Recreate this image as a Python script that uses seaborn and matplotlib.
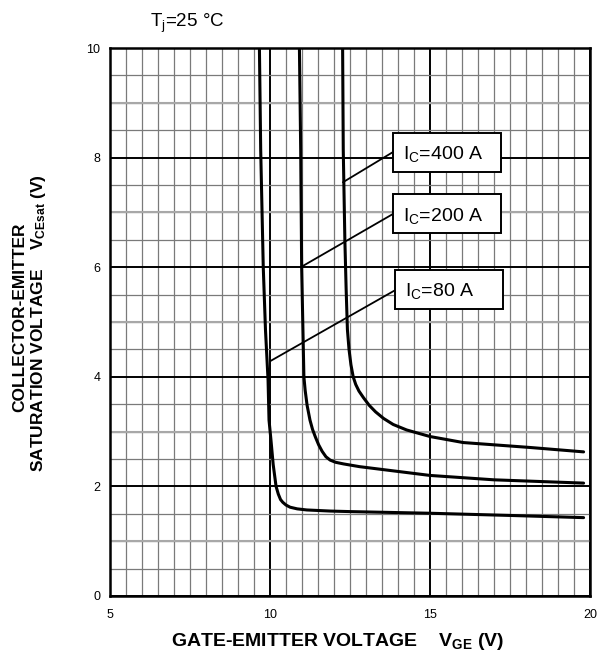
import matplotlib
matplotlib.use("Agg")
import matplotlib.pyplot as plt
from matplotlib.patches import Rectangle
from matplotlib.ticker import MultipleLocator
import pandas as pd
import seaborn as sns

# Saturation voltage V_CEsat (V) versus gate-emitter voltage V_GE (V), Tj = 25 °C
vge_80a = [9.67, 9.71, 9.79, 9.86, 9.94, 9.97, 10.03, 10.10, 10.19, 10.26,
           10.33, 10.40, 10.50, 10.63, 10.85, 11.15, 11.88, 12.50, 15.00,
           17.50, 19.80]
vce_80a = [10.0, 8.14, 6.00, 4.85, 3.94, 3.21, 2.85, 2.40, 2.00, 1.86,
           1.76, 1.71, 1.66, 1.62, 1.59, 1.57, 1.55, 1.54, 1.51,
           1.47, 1.43]

vge_200a = [10.92, 10.96, 10.99, 11.03, 11.06, 11.10, 11.16, 11.25, 11.33,
            11.42, 11.52, 11.63, 11.75, 11.88, 12.05, 12.30, 12.80, 15.00,
            17.00, 19.80]
vce_200a = [10.0, 8.14, 6.00, 4.85, 4.00, 3.75, 3.48, 3.21, 3.04,
            2.90, 2.76, 2.64, 2.54, 2.48, 2.44, 2.41, 2.36, 2.20,
            2.12, 2.06]

vge_400a = [12.27, 12.29, 12.34, 12.38, 12.42, 12.47, 12.53, 12.60, 12.68,
            12.78, 12.92, 13.10, 13.30, 13.55, 13.85, 14.27, 15.00, 16.04,
            18.13, 19.80]
vce_400a = [10.0, 8.14, 6.50, 5.60, 4.86, 4.50, 4.22, 4.00, 3.86,
            3.74, 3.62, 3.48, 3.36, 3.24, 3.13, 3.03, 2.91, 2.80,
            2.71, 2.63]

curve_labels = ["I$_\\mathregular{C}$=80 A", "I$_\\mathregular{C}$=200 A",
                "I$_\\mathregular{C}$=400 A"]
vge_sets = [vge_80a, vge_200a, vge_400a]
vce_sets = [vce_80a, vce_200a, vce_400a]

# Callout boxes: lower-left corner of each box and the curve point its leader touches
box_x0 = [13.91, 13.84, 13.84]
box_y0 = [5.24, 6.62, 7.74]
leader_x = [10.02, 10.99, 12.28]
leader_y = [4.29, 6.01, 7.55]
leader_end_y = [5.58, 6.97, 8.10]

x_ticks = [5, 10, 15, 20]
y_ticks = [0, 2, 4, 6, 8, 10]

sns.set_style("white")
plt.rcParams["font.family"] = ["Liberation Sans", "DejaVu Sans"]
plt.rcParams["mathtext.fontset"] = "custom"
plt.rcParams["mathtext.rm"] = "Liberation Sans"
plt.rcParams["mathtext.it"] = "Liberation Sans:italic"
plt.rcParams["mathtext.bf"] = "Liberation Sans:bold"
plt.rcParams["text.color"] = "black"
plt.rcParams["axes.labelcolor"] = "black"
plt.rcParams["xtick.color"] = "black"
plt.rcParams["ytick.color"] = "black"

fig = plt.figure(figsize=(5.98, 6.54), dpi=100)
ax = fig.add_axes([0.1839, 0.0887, 0.8027, 0.8379])

frames = []
for label, xs, ys in zip(curve_labels, vge_sets, vce_sets):
    frames.append(pd.DataFrame({"VGE": xs, "VCE": ys, "Ic": label}))
df = pd.concat(frames, ignore_index=True)

for label in curve_labels:
    sns.lineplot(data=df[df["Ic"] == label], x="VGE", y="VCE", sort=False,
                 estimator=None, color="black", lw=2.2, ax=ax, zorder=5,
                 legend=False)

ax.set_xlim(5, 20)
ax.set_ylim(0, 10)
ax.set_xticks(x_ticks)
ax.set_yticks(y_ticks)
ax.xaxis.set_minor_locator(MultipleLocator(0.5))
ax.yaxis.set_minor_locator(MultipleLocator(0.5))
ax.grid(which="minor", color="#7a7a7a", lw=0.9, zorder=1)
ax.grid(which="major", color="black", lw=1.4, zorder=2)
for yv in range(1, 10, 2):
    ax.axhline(yv, color="#a8a8a8", lw=1.5, zorder=1.5)
ax.set_axisbelow(True)

ax.tick_params(which="both", length=0, labelsize=9, colors="black")
ax.tick_params(axis="x", pad=9.5)
ax.tick_params(axis="y", pad=7)
for sp in ax.spines.values():
    sp.set_color("black")
    sp.set_linewidth(1.8)
    sp.set_zorder(6)

ax.set_xlabel("")
ax.set_ylabel("")

# Callouts for each collector current
box_w, box_h = 3.37, 0.71
for label, bx, by, lx, ly, ey in zip(curve_labels, box_x0, box_y0,
                                      leader_x, leader_y, leader_end_y):
    ax.plot([lx, bx], [ly, ey], color="black", lw=1.3, zorder=6)
    ax.add_patch(Rectangle((bx, by), box_w, box_h, facecolor="white",
                           edgecolor="black", lw=1.4, zorder=7))
    ax.text(bx + 0.32, by + 0.23, label, fontsize=14, ha="left",
            va="baseline", zorder=8)

fig.text(150 / 598, 1 - 27 / 654, "T$_\\mathregular{j}$=25 °C", fontsize=13.5,
         ha="left", va="baseline")
fig.text(338 / 598, 1 - 646 / 654, "GATE-EMITTER VOLTAGE    V$_\\mathregular{GE}$ (V)",
         fontsize=14, fontweight="bold", ha="center", va="baseline")
fig.text(20 / 598, 1 - 317 / 654, "COLLECTOR-EMITTER", fontsize=12.5,
         fontweight="bold", rotation=90, ha="center", va="center")
fig.text(39 / 598, 1 - 323 / 654,
         "SATURATION VOLTAGE    V$_\\mathregular{CEsat}$ (V)", fontsize=12.5,
         fontweight="bold", rotation=90, ha="center", va="center")

fig.savefig("out.png", dpi=100)
